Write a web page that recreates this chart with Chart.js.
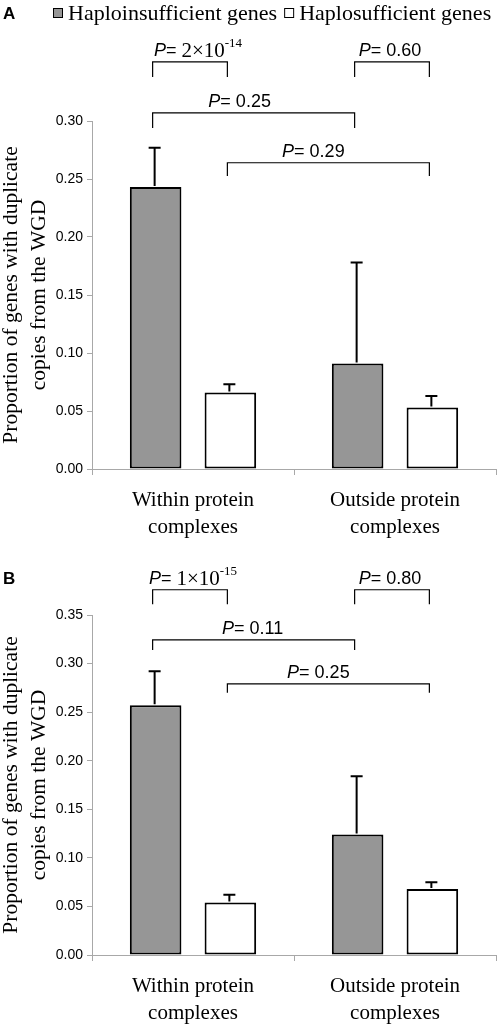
<!DOCTYPE html>
<html>
<head>
<meta charset="utf-8">
<script src="https://cdn.jsdelivr.net/npm/chart.js@4.4.1/dist/chart.umd.min.js"></script>
<style>
  html, body { margin: 0; padding: 0; background: #fff; }
  .panel { position: absolute; left: 0; width: 498px; }
  #panelA { top: 0; height: 540px; }
  #panelB { top: 540px; height: 488px; }
</style>
</head>
<body>
<div class="panel" id="panelA"><canvas id="chartA"></canvas></div>
<div class="panel" id="panelB"><canvas id="chartB"></canvas></div>
<script>
// ── Data ────────────────────────────────────────────────────────────
const CATEGORIES = [['Within protein', 'complexes'], ['Outside protein', 'complexes']];
const SERIES = ['Haploinsufficient genes', 'Haplosufficient genes'];
const Y_TITLE = ['Proportion of genes with duplicate', 'copies from the WGD'];

// Panel A
const A_TICKS = [0, 0.05, 0.10, 0.15, 0.20, 0.25, 0.30];
const A_INSUFFICIENT = [0.243, 0.091];
const A_SUFFICIENT = [0.066, 0.053];
const A_INSUFFICIENT_ERR = [0.034, 0.087];
const A_SUFFICIENT_ERR = [0.007, 0.010];
const A_P_VALUES = ['2×10^-14', '0.60', '0.25', '0.29'];

// Panel B
const B_TICKS = [0, 0.05, 0.10, 0.15, 0.20, 0.25, 0.30, 0.35];
const B_INSUFFICIENT = [0.257, 0.124];
const B_SUFFICIENT = [0.054, 0.068];
const B_INSUFFICIENT_ERR = [0.035, 0.060];
const B_SUFFICIENT_ERR = [0.008, 0.007];
const B_P_VALUES = ['1×10^-15', '0.80', '0.11', '0.25'];

// ── Look ────────────────────────────────────────────────────────────
const SERIF = '"Liberation Serif", "Times New Roman", serif';
const SANS = '"Liberation Sans", Arial, sans-serif';
const AXIS_GREY = '#a8a8a8';
const FILLS = ['#969696', '#ffffff'];

// bracket geometry: bars are numbered 0..3 left to right, heights in axis units
const A_BRACKETS = [
  { from: 0, to: 1, top: 0.351, leg: 0.338, dx: 8 },
  { from: 2, to: 3, top: 0.351, leg: 0.338, dx: -2 },
  { from: 0, to: 2, top: 0.307, leg: 0.294, dx: -14 },
  { from: 1, to: 3, top: 0.264, leg: 0.2526, dx: -15 },
];
const B_BRACKETS = [
  { from: 0, to: 1, top: 0.376, leg: 0.361, dx: 3 },
  { from: 2, to: 3, top: 0.376, leg: 0.361, dx: -2 },
  { from: 0, to: 2, top: 0.3244, leg: 0.314, dx: -1 },
  { from: 1, to: 3, top: 0.279, leg: 0.270, dx: -10 },
];

// ── Drawing helpers ─────────────────────────────────────────────────
function drawPLabel(ctx, cx, cy, p) {
  const parts = [{ t: 'P', f: 'italic 18px ' + SANS, dy: 0 }];
  if (p.includes('^')) {
    const [base, exp] = p.split('^');
    parts.push({ t: '= ', f: '18px ' + SANS, dy: 0 });
    parts.push({ t: base, f: '21px ' + SERIF, dy: 1 });
    parts.push({ t: exp, f: '13px ' + SERIF, dy: -7 });
  } else {
    parts.push({ t: '= ' + p, f: '18px ' + SANS, dy: 0 });
  }
  let w = 0;
  parts.forEach(pt => { ctx.font = pt.f; pt.w = ctx.measureText(pt.t).width; w += pt.w; });
  let x = cx - w / 2;
  ctx.textAlign = 'left';
  ctx.textBaseline = 'middle';
  ctx.fillStyle = '#000';
  parts.forEach(pt => { ctx.font = pt.f; ctx.fillText(pt.t, x, cy + pt.dy); x += pt.w; });
}

function barAt(chart, k) {
  return chart.getDatasetMeta(k % 2).data[Math.floor(k / 2)];
}

function marksPlugin(letter, letterY, errors, pValues, brackets, showLegend) {
  return {
    id: 'marks',
    afterDatasetsDraw(chart) {
      const ctx = chart.ctx;
      const y = chart.scales.y;
      ctx.save();
      ctx.strokeStyle = '#000';
      ctx.lineCap = 'butt';

      // error bars (upper half only)
      ctx.lineWidth = 2;
      chart.data.datasets.forEach((ds, d) => {
        chart.getDatasetMeta(d).data.forEach((bar, i) => {
          const yTop = y.getPixelForValue(ds.data[i] + errors[d][i]);
          ctx.beginPath();
          ctx.moveTo(bar.x - 1, bar.y - 1);
          ctx.lineTo(bar.x - 1, yTop);
          ctx.moveTo(bar.x - 7, yTop);
          ctx.lineTo(bar.x + 5, yTop);
          ctx.stroke();
        });
      });

      // significance brackets
      ctx.lineWidth = 1.2;
      brackets.forEach((b, n) => {
        const x1 = barAt(chart, b.from).x - 3;
        const x2 = barAt(chart, b.to).x - 3;
        const yt = y.getPixelForValue(b.top);
        const yl = y.getPixelForValue(b.leg);
        ctx.beginPath();
        ctx.moveTo(x1, yl);
        ctx.lineTo(x1, yt);
        ctx.lineTo(x2, yt);
        ctx.lineTo(x2, yl);
        ctx.stroke();
        drawPLabel(ctx, (x1 + x2) / 2 + b.dx, yt - 11, pValues[n]);
      });

      // panel letter
      ctx.font = 'bold 17px ' + SANS;
      ctx.textAlign = 'left';
      ctx.textBaseline = 'middle';
      ctx.fillStyle = '#000';
      ctx.fillText(letter, 3, letterY);

      // legend
      if (showLegend) {
        let x = 53;
        chart.data.datasets.forEach(ds => {
          ctx.fillStyle = ds.backgroundColor;
          ctx.fillRect(x, 8, 10, 10);
          ctx.lineWidth = 1;
          ctx.strokeStyle = '#000';
          ctx.strokeRect(x + 0.5, 8.5, 9, 9);
          ctx.font = '22px ' + SERIF;
          ctx.fillStyle = '#000';
          ctx.textBaseline = 'middle';
          ctx.fillText(ds.label, x + 15, 14);
          x += 15 + ctx.measureText(ds.label).width + 7;
        });
      }
      ctx.restore();
    },
  };
}

function makePanel(canvasId, cfg) {
  const ctx = document.getElementById(canvasId).getContext('2d');
  return new Chart(ctx, {
    type: 'bar',
    data: {
      labels: CATEGORIES,
      datasets: [
        { label: SERIES[0], data: cfg.insufficient, backgroundColor: FILLS[0] },
        { label: SERIES[1], data: cfg.sufficient, backgroundColor: FILLS[1] },
      ],
    },
    options: {
      responsive: true,
      maintainAspectRatio: false,
      animation: false,
      layout: { padding: { top: cfg.padTop, right: 2, left: 0, bottom: 0 } },
      datasets: {
        bar: {
          categoryPercentage: 0.74,
          barPercentage: 0.69,
          borderColor: '#000',
          borderWidth: 2,
          borderSkipped: false,
        },
      },
      plugins: {
        legend: { display: false },
        tooltip: { enabled: false },
      },
      scales: {
        x: {
          offset: true,
          grid: { display: true, drawOnChartArea: false, offset: true, tickLength: 6, color: AXIS_GREY },
          border: { color: AXIS_GREY, width: 1 },
          ticks: {
            color: '#000',
            padding: 12,
            font: { family: SERIF, size: 21, lineHeight: 1.3 },
          },
          afterFit: s => { s.height = cfg.xHeight; },
        },
        y: {
          min: 0,
          max: cfg.ticks[cfg.ticks.length - 1],
          afterBuildTicks: s => { s.ticks = cfg.ticks.map(v => ({ value: v })); },
          grid: { display: true, drawOnChartArea: false, tickLength: 5, color: AXIS_GREY },
          border: { color: AXIS_GREY, width: 1 },
          ticks: {
            color: '#000',
            padding: 4,
            font: { family: SANS, size: 14 },
            callback: v => v.toFixed(2),
          },
          title: {
            display: true,
            text: Y_TITLE,
            color: '#000',
            font: { family: SERIF, size: 21.5, lineHeight: 1.3 },
            padding: { top: -3, bottom: 0 },
          },
          afterFit: s => { s.width = 92; },
        },
      },
    },
    plugins: [marksPlugin(cfg.letter, cfg.letterY, [cfg.insufficientErr, cfg.sufficientErr],
      cfg.pValues, cfg.brackets, cfg.legend)],
  });
}

makePanel('chartA', {
  letter: 'A', letterY: 14, legend: true,
  padTop: 121, xHeight: 71, ticks: A_TICKS,
  insufficient: A_INSUFFICIENT, sufficient: A_SUFFICIENT,
  insufficientErr: A_INSUFFICIENT_ERR, sufficientErr: A_SUFFICIENT_ERR,
  pValues: A_P_VALUES, brackets: A_BRACKETS,
});

makePanel('chartB', {
  letter: 'B', letterY: 39, legend: false,
  padTop: 75, xHeight: 73, ticks: B_TICKS,
  insufficient: B_INSUFFICIENT, sufficient: B_SUFFICIENT,
  insufficientErr: B_INSUFFICIENT_ERR, sufficientErr: B_SUFFICIENT_ERR,
  pValues: B_P_VALUES, brackets: B_BRACKETS,
});
</script>
</body>
</html>
